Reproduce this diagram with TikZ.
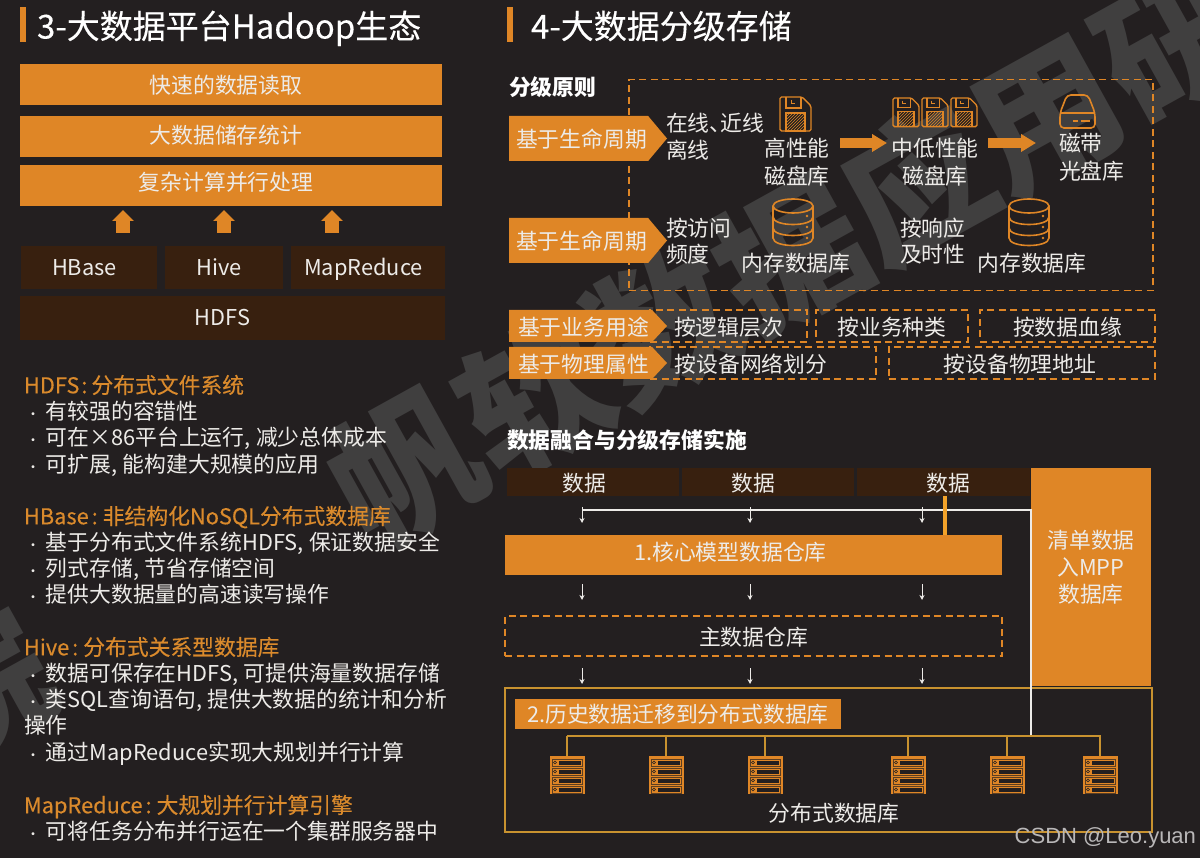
\documentclass[tikz,border=0pt]{standalone}
\usepackage{fontspec}
\setmainfont{Noto Sans CJK SC}
\newfontfamily\csdnfont{Liberation Sans}
\newfontfamily\medfont[FakeBold=0.25]{Noto Sans CJK SC}
\usetikzlibrary{arrows.meta, positioning, calc, shapes.symbols, patterns}
\definecolor{bgdark}{HTML}{231F20}
\definecolor{brandorange}{HTML}{DF8626}
\definecolor{barbrown}{HTML}{38200F}
\definecolor{headorange}{HTML}{DA8A2C}
\definecolor{goldline}{HTML}{C8922F}
\definecolor{stemorange}{HTML}{F2A22A}
\definecolor{markgray}{HTML}{403F3F}
\definecolor{bodywhite}{HTML}{EDEBE8}
\newcommand{\dotmark}{\makebox[24pt][l]{\kern4pt\fontsize{14}{14}\selectfont ·}}

\begin{document}
\begin{tikzpicture}[
  x=1pt, y=-1pt,
  every node/.style={inner sep=0pt, outer sep=0pt, text=bodywhite},
  sz/.style n args={2}{font=\fontsize{#1}{#2}\selectfont, text height=#1*.88pt, text depth=#1*.12pt},
  body/.style={sz={21.8}{26}},
  multi/.style={font=\fontsize{21.8}{#1}\selectfont, text height=, text depth=},
  title/.style={sz={33}{36}, text=white, anchor=west, font=\fontsize{33}{36}\selectfont\medfont},
  subtitle/.style={sz={21.8}{26}, text=white, font=\fontsize{21.8}{26}\selectfont\bfseries, anchor=west},
  headline/.style={body, text=headorange, anchor=west, font=\fontsize{21.8}{26}\selectfont\medfont},
  bulletline/.style={body, anchor=west},
  orangebar/.style={body, fill=brandorange, anchor=north west},
  brownbar/.style={body, fill=barbrown, anchor=north west},
  leftlines/.style={align=left, anchor=west},
  midlines/.style={align=center},
  dashbox/.style={body, draw=brandorange, line width=1.5pt, dash pattern=on 7pt off 4.5pt, anchor=north west},
  tag/.style={body, fill=brandorange, signal, signal to=east, anchor=west},
  titlebar/.style={fill=brandorange, anchor=north west},
  upblock/.style={draw=brandorange, line width=14pt, -{Triangle[length=11pt, width=21pt]}},
  rightblock/.style={draw=brandorange, line width=10pt, -{Triangle[length=15pt, width=17pt]}},
  flow/.style={draw=bodywhite, line width=0.8pt, -{Stealth[length=5pt, width=5pt]}},
  wireline/.style={draw=bodywhite, line width=1.6pt},
  busline/.style={draw=goldline, line width=1.6pt},
  wmark/.style={font=\fontsize{146}{146}\selectfont\bfseries, text=markgray, rotate=29},
  floppy/.pic={
    \draw[brandorange, line width=1.4pt, rounded corners=1.5pt] (0,0) -- (22,0) -- (31,9) -- (31,34) -- (0,34) -- cycle;
    \draw[brandorange, line width=1.1pt] (6,0) -- (6,11) -- (21,11) -- (21,0);
    \draw[brandorange, line width=0.9pt] (11,3) -- (11,6) -- (15,6);
    \draw[brandorange, line width=1.1pt, pattern=north east lines, pattern color=brandorange] (6,16) rectangle (25,34);
  },
  diskdrum/.pic={
    \draw[brandorange, line width=1.6pt] (0,7) ellipse [x radius=20, y radius=7];
    \draw[brandorange, line width=1.6pt] (-20,7) -- (-20,39) .. controls (-20,49) and (20,49) .. (20,39) -- (20,7);
    \draw[brandorange, line width=1.6pt] (-20,18) .. controls (-20,28) and (20,28) .. (20,18);
    \draw[brandorange, line width=1.6pt] (-20,29) .. controls (-20,39) and (20,39) .. (20,29);
    \fill[brandorange] (14,17) circle [radius=1.3];
    \fill[brandorange] (14,28) circle [radius=1.3];
    \fill[brandorange] (14,39) circle [radius=1.3];
  },
  tapebox/.pic={
    \draw[brandorange, line width=1.6pt, rounded corners=4pt] (0,33) -- (0,18) -- (7,0) -- (28,0) -- (35,18) -- (35,33) -- cycle;
    \draw[brandorange, line width=1.6pt] (0,18) -- (35,18);
    \draw[brandorange, line width=2.4pt] (13,26) -- (18,26);
    \draw[brandorange, line width=2.4pt] (21,26) -- (30,26);
  },
  rack/.pic={
    \fill[brandorange] (-17.5,0) rectangle (17.5,38);
    \foreach \ry in {3,12,21,30} {
      \draw[bgdark!70!brandorange, line width=0.5pt] (-15,\ry) rectangle (15,\ry+7);
      \fill[bgdark] (-8,\ry+1.5) rectangle (14,\ry+5.5);
      \draw[bgdark, line width=0.5pt] (-12,\ry+3.5) circle [radius=1.5];
    }
  }
]
\useasboundingbox (0,0) rectangle (1200,858);
\fill[bgdark] (0,0) rectangle (1200,858);

% Diagonal mark behind everything
\begin{scope}
  \clip (0,0) rectangle (1200,858);
  \node[wmark] (markmain) at (790,255) {帆软数据应用研};
  \node[wmark] (marktail) at (-25,685) {院};
\end{scope}

% === LEFT TITLE ===
\node[titlebar, minimum width=6pt, minimum height=35pt] (barleft) at (20,7) {};
\node[title] (titleleft) at (37,26) {3-大数据平台Hadoop生态};

% === LEFT STACK ===
\node[orangebar, minimum width=422pt, minimum height=41pt] (fastread) at (20,64) {\kern-10pt\raisebox{-1pt}{快速的数据读取}};
\node[orangebar, minimum width=422pt, minimum height=41pt] (storestat) at (20,116) {\kern-10pt\raisebox{1pt}{大数据储存统计}};
\node[orangebar, minimum width=422pt, minimum height=41pt] (parallel) at (20,165) {\kern-10pt\raisebox{3pt}{复杂计算并行处理}};
\node[brownbar, minimum width=136pt, minimum height=43pt] (hbase) at (21,246) {\kern-9pt HBase};
\node[brownbar, minimum width=118pt, minimum height=43pt] (hive) at (165,246) {\kern-10pt Hive};
\node[brownbar, minimum width=154pt, minimum height=43pt] (mapred) at (291,246) {\kern-9pt MapReduce};
\node[brownbar, minimum width=425pt, minimum height=44pt] (hdfs) at (20,296) {\kern-20pt\raisebox{1pt}{HDFS}};

\draw[upblock, shorten <=13pt, shorten >=4pt] ([xshift=34pt]hbase.north) -- ([xshift=34pt]hbase.north |- parallel.south);
\draw[upblock, shorten <=13pt, shorten >=4pt] (hive.north) -- (hive.north |- parallel.south);
\draw[upblock, shorten <=13pt, shorten >=4pt] ([xshift=-36pt]mapred.north) -- ([xshift=-36pt]mapred.north |- parallel.south);

% === LEFT NOTES ===
\node[headline] (hdfshead) at (24,385) {HDFS\kern2pt:\kern4pt 分布式文件系统};
\node[bulletline] (hdfsa) at (22,411) {\dotmark 有较强的容错性};
\node[bulletline] (hdfsb) at (22,437) {\dotmark 可在×86平台上运行,\kern5.5pt 减少总体成本};
\node[bulletline] (hdfsc) at (22,464) {\dotmark 可扩展,\kern5.5pt 能构建大规模的应用};

\node[headline] (hbasehead) at (24,516) {HBase\kern3pt:\kern5pt 非结构化NoSQL分布式数据库};
\node[bulletline] (hbasea) at (22,542) {\dotmark 基于分布式文件系统HDFS,\kern5.5pt 保证数据安全};
\node[bulletline] (hbaseb) at (22,568) {\dotmark 列式存储,\kern5.5pt 节省存储空间};
\node[bulletline] (hbasec) at (22,594) {\dotmark 提供大数据量的高速读写操作};

\node[headline] (hivehead) at (24,647) {Hive\kern3pt:\kern5pt 分布式关系型数据库};
\node[bulletline] (hivea) at (22,673) {\dotmark 数据可保存在HDFS,\kern5.5pt 可提供海量数据存储};
\node[bulletline] (hiveb) at (22,699) {\dotmark 类SQL查询语句,\kern5.5pt 提供大数据的统计和分析};
\node[bulletline] (hivec) at (24,725) {操作};
\node[bulletline] (hived) at (22,752) {\dotmark 通过MapReduce实现大规划并行计算};

\node[headline] (mrhead) at (24,805) {MapReduce\kern3pt:\kern5pt 大规划并行计算引擎};
\node[bulletline] (mra) at (22,831) {\dotmark 可将任务分布并行运在一个集群服务器中};

% === RIGHT TITLE ===
\node[titlebar, minimum width=6pt, minimum height=35pt] (barright) at (507,7) {};
\node[title] (titleright) at (531,26) {4-大数据分级存储};

% === GRADING RULES ===
\node[subtitle] (rules) at (509,87) {分级原则};
\node[dashbox, minimum width=524pt, minimum height=211pt] (rulesframe) at (629,79.5) {};

\node[tag, minimum width=158pt, minimum height=45pt, signal pointer angle=100] (lifea) at (509,138.5) {\kern6pt\raisebox{-1pt}{基于生命周期}};
\node[tag, minimum width=158pt, minimum height=45pt, signal pointer angle=100] (lifeb) at (509,240.5) {\kern6pt\raisebox{-1pt}{基于生命周期}};

\node[leftlines, multi=27] (online) at (666,137) {在线、\kern-11pt 近线\\离线};
\pic at (780,97) {floppy};
\node[midlines, multi=28] (hiperf) at (797,162) {高性能\\磁盘库};
\coordinate (flowa) at (840,143);
\coordinate (flowb) at (887,143);
\draw[rightblock] (flowa) -- (flowb);
\pic[scale=0.84] at (893,98) {floppy};
\pic[scale=0.84] at (922,98) {floppy};
\pic[scale=0.84] at (951,98) {floppy};
\node[midlines, multi=28] (midperf) at (935,162) {中低性能\\磁盘库};
\coordinate (flowc) at (988,143);
\coordinate (flowd) at (1036,143);
\draw[rightblock] (flowc) -- (flowd);
\pic at (1060,95) {tapebox};
\node[leftlines, multi=28] (tape) at (1059,157) {磁带\\光盘库};

\node[leftlines, multi=26] (visit) at (666,241) {按访问\\频度};
\pic at (793,199) {diskdrum};
\node[body] (memdba) at (796,263) {内存数据库};
\node[leftlines, multi=26] (respond) at (900,241) {按响应\\及时性};
\pic at (1029,199) {diskdrum};
\node[body] (memdbb) at (1032,263) {内存数据库};

\node[dashbox, minimum width=157pt, minimum height=32pt] (logicbox) at (650,310) {\raisebox{-1pt}{按逻辑层次}};
\node[dashbox, minimum width=152pt, minimum height=32pt] (kindbox) at (816,310) {\raisebox{-1pt}{按业务种类}};
\node[dashbox, minimum width=175pt, minimum height=32pt] (bloodbox) at (980,310) {\raisebox{-1pt}{按数据血缘}};
\node[dashbox, minimum width=226pt, minimum height=32pt] (netbox) at (650,347) {\kern-24pt\raisebox{-1pt}{按设备网络划分}};
\node[dashbox, minimum width=266pt, minimum height=32pt] (addrbox) at (889,347) {\kern-4pt\raisebox{-1pt}{按设备物理地址}};
\node[tag, minimum width=158pt, minimum height=32pt, signal pointer angle=94] (bizuse) at (509,326) {\kern6pt\raisebox{-1pt}{基于业务用途}};
\node[tag, minimum width=158pt, minimum height=32pt, signal pointer angle=94] (physprop) at (509,363) {\kern6pt\raisebox{-1pt}{基于物理属性}};

% === FUSION AND STORAGE ===
\node[subtitle] (fusion) at (507,440) {数据融合与分级存储实施};

\node[brownbar, minimum width=172pt, minimum height=28pt] (dataa) at (507,468) {\kern-18pt\raisebox{-1pt}{数据}};
\node[brownbar, minimum width=172pt, minimum height=28pt] (datab) at (682,468) {\kern-30pt\raisebox{-1pt}{数据}};
\node[brownbar, minimum width=173pt, minimum height=28pt] (datac) at (857,468) {\kern 9pt\raisebox{-1pt}{数据}};
\node[orangebar, minimum width=120pt, minimum height=218pt] (mpp) at (1031,468) {};
\node[midlines, multi=27] (mpptext) at (1091,567) {清单数据\\入MPP\\数据库};
\node[orangebar, minimum width=497pt, minimum height=40pt] (core) at (505,535) {\raisebox{3pt}{\kern-46pt 1.核心模型数据仓库}};
\node[dashbox, minimum width=497pt, minimum height=40pt] (master) at (505,616) {\raisebox{-1pt}{主数据仓库}};
\node[draw=goldline, line width=1.8pt, anchor=north west, minimum width=647pt, minimum height=144pt] (bigbox) at (505,688) {};
\node[orangebar, minimum width=326pt, minimum height=30pt] (migrate) at (515,699) {2.历史数据迁移到分布式数据库};
\node[body] (distdb) at (834,813) {分布式数据库};

\coordinate (laneone) at (582,510);
\coordinate (lanetwo) at (750,510);
\coordinate (lanethree) at (922,510);
\coordinate (busleft) at (567,736);
\coordinate (busright) at (1101,736);

\draw[wireline] (laneone) -- (laneone -| mpp.west) -- (mpp.west |- busleft);
\draw[draw=stemorange, line width=3.5pt] ([xshift=1.5pt]datac.south) -- ([xshift=1.5pt]datac.south |- core.north);

\draw[flow, shorten <=11pt, shorten >=12pt] (laneone |- dataa.south) -- (laneone |- core.north);
\draw[flow, shorten <=11pt, shorten >=12pt] (lanetwo |- datab.south) -- (lanetwo |- core.north);
\draw[flow, shorten <=11pt, shorten >=12pt] (lanethree |- datac.south) -- (lanethree |- core.north);
\draw[flow, shorten <=9pt, shorten >=16pt] (laneone |- core.south) -- (laneone |- master.north);
\draw[flow, shorten <=9pt, shorten >=16pt] (lanetwo |- core.south) -- (lanetwo |- master.north);
\draw[flow, shorten <=9pt, shorten >=16pt] (lanethree |- core.south) -- (lanethree |- master.north);
\draw[flow, shorten <=12pt, shorten >=4pt] (laneone |- master.south) -- (laneone |- bigbox.north);
\draw[flow, shorten <=12pt, shorten >=4pt] (lanetwo |- master.south) -- (lanetwo |- bigbox.north);
\draw[flow, shorten <=12pt, shorten >=4pt] (lanethree |- master.south) -- (lanethree |- bigbox.north);

% Servers on the bus
\coordinate (rackone) at (567,756);
\coordinate (racktwo) at (666,756);
\coordinate (rackthree) at (765,756);
\coordinate (rackfour) at (908,756);
\coordinate (rackfive) at (1007,756);
\coordinate (racksix) at (1100,756);
\draw[busline] (busleft) -- (busright);
\draw[busline] (rackone |- busleft) -- (rackone);
\draw[busline] (racktwo |- busleft) -- (racktwo);
\draw[busline] (rackthree |- busleft) -- (rackthree);
\draw[busline] (rackfour |- busleft) -- (rackfour);
\draw[busline] (rackfive |- busleft) -- (rackfive);
\draw[busline] (racksix |- busleft) -- (racksix);
\pic at (rackone) {rack};
\pic at (racktwo) {rack};
\pic at (rackthree) {rack};
\pic at (rackfour) {rack};
\pic at (rackfive) {rack};
\pic at (racksix) {rack};

\node[font=\fontsize{22}{24}\selectfont\csdnfont, text=white!68!bgdark, anchor=east] (csdn) at (1196,838) {CSDN @Leo.yuan};
\end{tikzpicture}
\end{document}
